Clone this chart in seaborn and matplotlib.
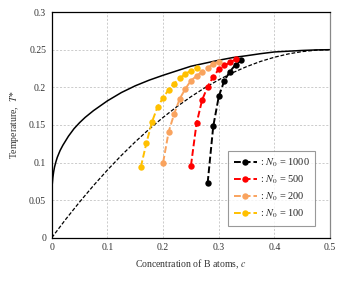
import numpy as np
import pandas as pd
import matplotlib
matplotlib.use("Agg")
import matplotlib.pyplot as plt
import seaborn as sns

# Binodal (solid) curve
bin_c = [0.0, 0.001, 0.002, 0.0035, 0.005, 0.0075, 0.01, 0.015, 0.02, 0.03, 0.04, 0.05, 0.06,
         0.075, 0.1, 0.125, 0.15, 0.175, 0.2, 0.225, 0.25, 0.275, 0.3, 0.325, 0.35, 0.375,
         0.4, 0.425, 0.45, 0.475, 0.5]
bin_T = [0.065, 0.072, 0.080, 0.088, 0.094, 0.101, 0.107, 0.116, 0.123, 0.135, 0.145, 0.153, 0.160,
         0.169, 0.182, 0.193, 0.202, 0.2095, 0.216, 0.222, 0.228, 0.232, 0.236, 0.2395, 0.242, 0.2447,
         0.247, 0.248, 0.249, 0.2497, 0.25]
# Spinodal (dashed) curve
spn_c = [0.0, 0.025, 0.05, 0.075, 0.1, 0.125, 0.15, 0.175, 0.2, 0.225, 0.25, 0.275, 0.3,
         0.325, 0.35, 0.375, 0.4, 0.425, 0.45, 0.475, 0.5]
spn_T = [0.0, 0.0244, 0.0475, 0.0694, 0.09, 0.1094, 0.1275, 0.1444, 0.16, 0.1744, 0.1875, 0.1994, 0.21,
         0.2194, 0.2275, 0.2344, 0.24, 0.2444, 0.2475, 0.2494, 0.25]

# Simulation series
c_1000 = [0.28, 0.29, 0.30, 0.31, 0.32, 0.33, 0.34]
T_1000 = [0.073, 0.148, 0.188, 0.209, 0.221, 0.230, 0.236]
c_500 = [0.25, 0.26, 0.27, 0.28, 0.29, 0.30, 0.31, 0.32, 0.33]
T_500 = [0.096, 0.152, 0.183, 0.201, 0.214, 0.224, 0.229, 0.233, 0.237]
c_200 = [0.20, 0.21, 0.22, 0.23, 0.24, 0.25, 0.26, 0.27, 0.28, 0.29, 0.30]
T_200 = [0.100, 0.141, 0.165, 0.185, 0.198, 0.209, 0.215, 0.221, 0.226, 0.231, 0.234]
c_100 = [0.16, 0.17, 0.18, 0.19, 0.20, 0.21, 0.22, 0.23, 0.24, 0.25, 0.26]
T_100 = [0.094, 0.126, 0.154, 0.174, 0.186, 0.197, 0.205, 0.212, 0.218, 0.222, 0.226]

labels = [": $N_0$ = 1000", ": $N_0$ = 500", ": $N_0$ = 200", ": $N_0$ = 100"]
colors = ["#000000", "#FF0000", "#F9A35E", "#FFC000"]

sns.set_theme(style="white")
plt.rcParams['font.family'] = ['Liberation Serif', 'DejaVu Serif']
plt.rcParams['mathtext.fontset'] = 'stix'

fig = plt.figure(figsize=(3.45, 2.81), dpi=100)
ax = fig.add_axes([0.15, 0.154, 0.807, 0.803])

ax.grid(True, color="#c4c4c4", linestyle=(0, (2.5, 2)), linewidth=0.6)
ax.set_axisbelow(True)

sns.lineplot(x=bin_c, y=bin_T, ax=ax, color="black", linewidth=1.1, sort=False)
sns.lineplot(x=spn_c, y=spn_T, ax=ax, color="black", linewidth=0.9, linestyle=(0, (3, 1.5)), sort=False)

series = [(c_1000, T_1000), (c_500, T_500), (c_200, T_200), (c_100, T_100)]
for (cs, ts), lab, col in zip(series, labels, colors):
    df = pd.DataFrame({"c": cs, "T": ts})
    sns.lineplot(data=df, x="c", y="T", ax=ax, color=col, linewidth=1.4,
                 linestyle=(0, (3.5, 1.5)), marker="o", markersize=4.6,
                 markeredgewidth=0, label=lab, sort=False)

ax.set_xlim(0, 0.5)
ax.set_ylim(0, 0.3)
ax.set_xticks([0, 0.1, 0.2, 0.3, 0.4, 0.5])
ax.set_xticklabels(["0", "0.1", "0.2", "0.3", "0.4", "0.5"])
ax.set_yticks([0, 0.05, 0.1, 0.15, 0.2, 0.25, 0.3])
ax.set_yticklabels(["0", "0.05", "0.1", "0.15", "0.2", "0.25", "0.3"])
ax.tick_params(axis="both", labelsize=7, length=0, pad=4, colors="#333333")
ax.set_xlabel("Concentration of B atoms, $c$", fontsize=7, color="#333333", labelpad=4)
ax.set_ylabel("Temperature,  $T$*", fontsize=7, color="#333333", labelpad=6)

for s in ["left", "bottom", "top"]:
    ax.spines[s].set_color("black")
    ax.spines[s].set_linewidth(0.9)
ax.spines["right"].set_color("#888888")
ax.spines["right"].set_linewidth(0.9)

leg = ax.legend(loc="lower right", bbox_to_anchor=(0.966, 0.028), fontsize=7.5,
                frameon=True, fancybox=False, edgecolor="#808080",
                handlelength=2.2, handletextpad=0.3, borderpad=0.55,
                labelspacing=0.45)
leg.get_frame().set_linewidth(0.8)

fig.savefig("out.png", dpi=100)
